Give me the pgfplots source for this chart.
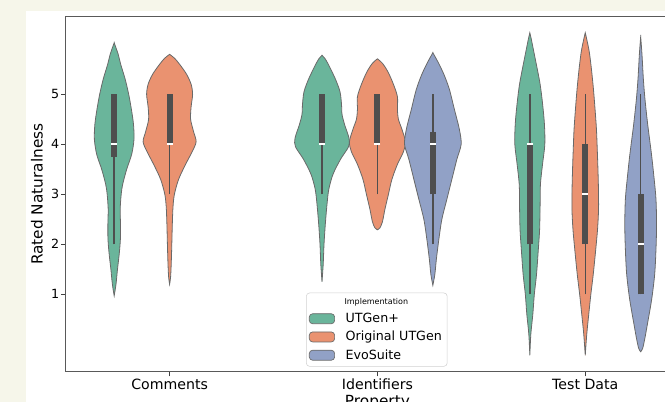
\documentclass[border=0pt]{standalone}
\usepackage{pgfplots}
\pgfplotsset{compat=1.18}
\usepackage{pgfplotstable}
\usepackage{fontspec}
\setmainfont{DejaVu Sans}
\definecolor{bgbeige}{RGB}{246,246,234}
\definecolor{vgreen}{RGB}{106,181,155}
\definecolor{vorange}{RGB}{234,146,112}
\definecolor{vblue}{RGB}{145,161,198}
\definecolor{vedge}{RGB}{105,105,105}
\definecolor{boxc}{RGB}{78,78,78}

% half-widths in pixels (1 category = 207.8 px)
\pgfplotstableread{
y w
0.97 0
1.2 1.8
1.5 3.3
1.8 5.0
2.1 6.2
2.4 6.3
2.7 6.0
3.0 7.0
3.2 8.5
3.5 12.5
3.8 17.5
4.1 19.8
4.4 19.3
4.7 17.2
5.0 14.5
5.3 11.0
5.6 6.5
5.8 4.0
6.03 0
}\tCg
\pgfplotstableread{
y w
1.2 0
1.35 1.0
1.6 1.6
2.0 2.2
2.4 2.7
2.75 3.4
3.0 4.8
3.3 9.0
3.6 16.0
3.85 22.5
4.05 26.5
4.25 24.0
4.5 21.0
4.75 21.5
5.0 23.0
5.2 21.5
5.4 17.0
5.6 10.0
5.72 5.0
5.8 0
}\tCo
\pgfplotstableread{
y w
1.25 0
1.6 1.2
2.0 2.0
2.4 3.3
2.8 5.0
3.1 6.8
3.4 11.0
3.7 18.5
3.95 26.5
4.12 27.0
4.4 22.5
4.6 20.0
4.8 19.5
5.05 18.0
5.3 13.5
5.55 7.5
5.7 3.5
5.78 0
}\tIg
\pgfplotstableread{
y w
2.29 0
2.33 2.5
2.45 5.0
2.7 7.5
3.0 11.0
3.3 14.5
3.6 20.0
3.85 26.0
4.05 28.0
4.3 24.5
4.5 21.0
4.7 20.0
4.95 20.0
5.2 16.0
5.45 10.5
5.62 5.0
5.71 0
}\tIo
\pgfplotstableread{
y w
1.18 0
1.4 2.0
1.7 3.5
2.1 6.0
2.5 9.0
2.9 14.0
3.3 19.0
3.7 24.0
4.0 28.3
4.3 26.5
4.7 21.5
5.1 16.5
5.4 11.0
5.65 5.0
5.83 0
}\tIb
\pgfplotstableread{
y w
-0.22 0
0.2 1.0
0.6 3.0
1.0 4.5
1.4 6.7
1.9 8.5
2.3 9.8
2.8 10.3
3.2 10.6
3.6 12.7
4.0 15.0
4.4 14.6
4.8 12.8
5.2 10.3
5.6 6.5
5.9 3.5
6.1 1.5
6.23 0
}\tTg
\pgfplotstableread{
y w
-0.22 0
0.2 1.5
0.6 3.5
1.0 5.6
1.4 8.0
1.9 10.5
2.3 12.3
2.7 13.3
3.1 13.2
3.5 12.7
3.9 12.0
4.3 11.2
4.7 9.8
5.1 8.2
5.5 6.2
5.85 4.0
6.1 1.5
6.23 0
}\tTo
\pgfplotstableread{
y w
-0.15 0
-0.08 2.0
0.1 4.0
0.4 6.7
0.9 11.0
1.4 14.0
1.9 15.3
2.4 15.9
2.9 15.3
3.3 13.5
3.8 10.8
4.4 7.0
4.9 4.3
5.3 2.7
5.8 1.3
6.15 0
}\tTb

% mirror: right side going up (s=1), then left side coming down (s=-1)
\newcommand{\buildviolin}[2]{%
  \pgfplotstablesort[sort key=y, sort cmp={float >}]{\tmpRev}{#1}%
  \pgfplotstablecreatecol[expr={-1}]{s}{\tmpRev}%
  \pgfplotstablecreatecol[expr={1}]{s}{#1}%
  \pgfplotstablevertcat{#2}{#1}%
  \pgfplotstablevertcat{#2}{\tmpRev}%
}
\buildviolin{\tCg}{\fCg}
\buildviolin{\tCo}{\fCo}
\buildviolin{\tIg}{\fIg}
\buildviolin{\tIo}{\fIo}
\buildviolin{\tIb}{\fIb}
\buildviolin{\tTg}{\fTg}
\buildviolin{\tTo}{\fTo}
\buildviolin{\tTb}{\fTb}

\newcommand{\violin}[3]{%
  \addplot[fill=#3, draw=vedge, line width=0.6pt, forget plot, smooth, tension=0.5]
    table[x expr=#2+\thisrow{s}*\thisrow{w}/207.8, y=y]{#1} -- cycle;
}
\newcommand{\boxwhisk}[6]{%
  \addplot[boxc, line width=1.1pt, forget plot] coordinates {(#1,#2) (#1,#3)};
  \addplot[boxc, line width=4.5pt, forget plot] coordinates {(#1,#4) (#1,#5)};
  \addplot[only marks, mark=-, mark size=2.2pt, white, line width=1.3pt, forget plot] coordinates {(#1,#6)};
}

\begin{document}
\begin{tikzpicture}[x=0.75pt,y=0.75pt]
\fill[bgbeige] (0,0) rectangle (665,402);
\fill[white] (26,0) rectangle (665,391);
\begin{scope}
\clip (0,0) rectangle (665,402);
\begin{axis}[
  at={(49.275pt,22.725pt)}, anchor=south west,
  width=467.6pt, height=266.25pt, scale only axis,
  xmin=-0.5, xmax=2.5, ymin=-0.548, ymax=6.552,
  xtick={0,1,2}, xticklabels={Comments,Identifiers,Test Data},
  ytick={1,2,3,4,5},
  tick pos=left, tick align=outside, major tick length=3.5pt,
  tick style={black!75, line width=0.6pt},
  axis line style={black!65, line width=0.9pt},
  xticklabel style={font=\fontsize{10.6}{12}\selectfont, yshift=1.5pt},
  yticklabel style={font=\fontsize{9.5}{11}\selectfont, xshift=2.2pt},
  /pgf/number format/assume math mode=true,
  xlabel={Property}, ylabel={Rated Naturalness},
  label style={font=\fontsize{11.5}{13}\selectfont},
  xlabel style={at={(axis description cs:0.5,0)}, anchor=north, yshift=-14.4pt},
  ylabel style={at={(axis description cs:-0.046,0.5)}, anchor=center},
  legend style={at={(axis description cs:0.3855,0.2225)}, anchor=north west,
    draw=black!18, rounded corners=2.5pt, fill=white,
    font=\fontsize{9.5}{11}\selectfont, inner sep=2pt, row sep=1pt,
    /tikz/every odd column/.append style={column sep=6pt}},
  legend cell align=left,
]
\violin{\fCg}{-0.2667}{vgreen}
\violin{\fCo}{0}{vorange}
\violin{\fIg}{0.7333}{vgreen}
\violin{\fIo}{1}{vorange}
\violin{\fIb}{1.2667}{vblue}
\violin{\fTg}{1.7333}{vgreen}
\violin{\fTo}{2}{vorange}
\violin{\fTb}{2.2667}{vblue}

\boxwhisk{-0.2667}{2}{5}{3.75}{5}{4}
\boxwhisk{0}{3}{5}{4}{5}{4}
\boxwhisk{0.7333}{3}{5}{4}{5}{4}
\boxwhisk{1}{3}{5}{4}{5}{4}
\boxwhisk{1.2667}{2}{5}{3}{4.25}{4}
\boxwhisk{1.7333}{1}{5}{2}{4}{4}
\boxwhisk{2}{1}{5}{2}{4}{3}
\boxwhisk{2.2667}{1}{5}{1}{3}{2}

\addlegendimage{empty legend}
\addlegendentry{\hspace*{23pt}\makebox[0pt][c]{\fontsize{6}{7}\selectfont Implementation}}
\addlegendimage{legend image code/.code={\draw[fill=vgreen,draw=vedge,line width=0.5pt] (0pt,-3.75pt) rectangle (19pt,3.75pt);}}
\addlegendentry{UTGen+}
\addlegendimage{legend image code/.code={\draw[fill=vorange,draw=vedge,line width=0.5pt] (0pt,-3.75pt) rectangle (19pt,3.75pt);}}
\addlegendentry{Original UTGen}
\addlegendimage{legend image code/.code={\draw[fill=vblue,draw=vedge,line width=0.5pt] (0pt,-3.75pt) rectangle (19pt,3.75pt);}}
\addlegendentry{EvoSuite}
\end{axis}
\end{scope}
\pgfresetboundingbox
\path[use as bounding box] (0,0) rectangle (665,402);
\end{tikzpicture}
\end{document}
